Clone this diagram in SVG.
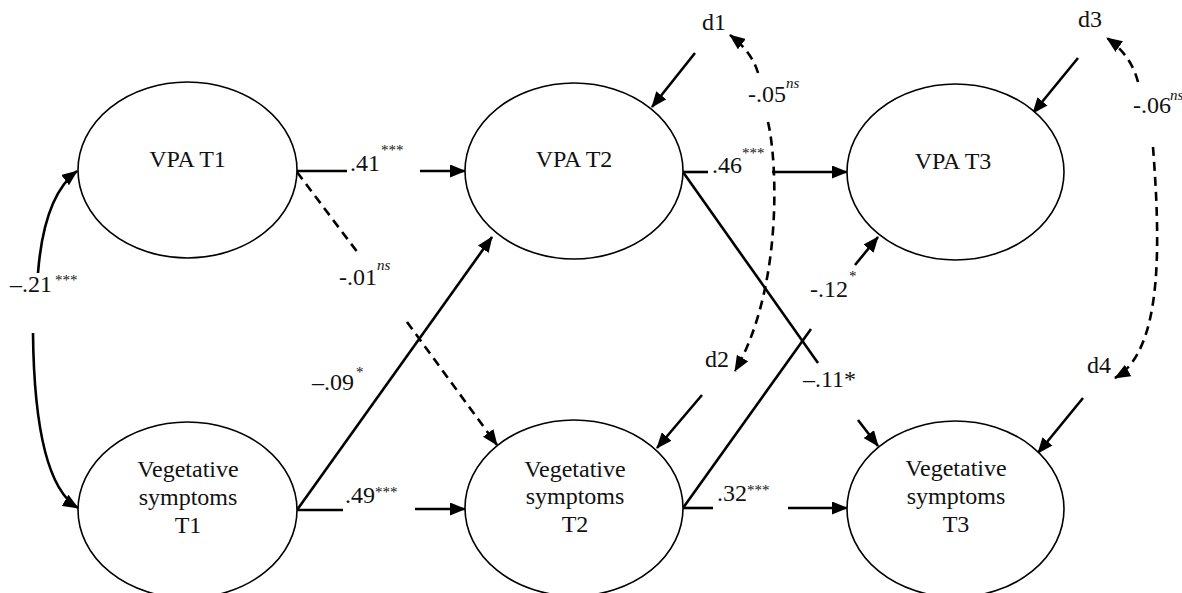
<svg xmlns="http://www.w3.org/2000/svg" width="1182" height="593" viewBox="0 0 1182 593">
<style>
.node ellipse{fill:#fff;stroke:#000;stroke-width:1.6}
.nt{font-family:"Liberation Serif","Times New Roman",serif;font-size:24px;fill:#111;text-anchor:middle}
.lb{font-family:"Liberation Serif","Times New Roman",serif;font-size:24px;fill:#111}
.sup{font-family:"Liberation Serif","Times New Roman",serif;font-size:15px;fill:#111}
.it{font-style:italic}
.c{fill:none;stroke:#000;stroke-width:2.6}
.d{stroke-dasharray:9,6}
.a{marker-end:url(#ah)}
</style>
<defs>
<marker id="ah" viewBox="0 0 16 13" refX="15" refY="6.5" markerWidth="16" markerHeight="13" markerUnits="userSpaceOnUse" orient="auto">
<path d="M0,0 L16,6.5 L0,13 z" fill="#000"/>
</marker>
</defs>
<rect width="1182" height="593" fill="#fff"/>
<g id="connectors">
<path class="c a" d="M38,273 Q44,196 77,171"/>
<path class="c a" d="M33,333 C34,430 48,490 78,508"/>
<path class="c" d="M297,171 L347,171"/>
<path class="c a" d="M420,171 L465,171"/>
<path class="c d" d="M297,172 L358,253"/>
<path class="c d a" d="M407,322 L497,445"/>
<path class="c a" d="M297,510 L492,237"/>
<path class="c" d="M297,510 L343,510"/>
<path class="c a" d="M415,509 L465,509"/>
<path class="c" d="M683,172 L708,172"/>
<path class="c a" d="M772,172 L847,172"/>
<path class="c" d="M683,172 L818,363"/>
<path class="c a" d="M858,420 L878,446"/>
<path class="c" d="M683,508 L811,329"/>
<path class="c a" d="M855,265 L878,237"/>
<path class="c" d="M683,508 L713,508"/>
<path class="c a" d="M788,508 L847,508"/>
<path class="c a" d="M695,53 L652,107"/>
<path class="c a" d="M702,395 L657,448"/>
<path class="c a" d="M1078,58 L1033,113"/>
<path class="c a" d="M1083,398 L1038,453"/>
<path class="c d a" d="M758,73 Q752,52 730,35"/>
<path class="c d a" d="M768,122 C778,165 782,290 735,371"/>
<path class="c d a" d="M1138,82 Q1131,55 1107,38"/>
<path class="c d a" d="M1153,147 C1160,240 1164,350 1115,378"/>
</g>
<g id="labels">
<text class="lb" x="10" y="292">–.21</text><text class="sup" x="55" y="285">***</text>
<text class="lb" x="350" y="171">.41</text><text class="sup" x="381" y="155">***</text>
<text class="lb" x="339" y="285">-.01</text><text class="sup it" x="377" y="270">ns</text>
<text class="lb" x="312" y="390">–.09</text><text class="sup" x="356" y="377">*</text>
<text class="lb" x="345" y="503">.49</text><text class="sup" x="375" y="497">***</text>
<text class="lb" x="712" y="173">.46</text><text class="sup" x="742" y="158">***</text>
<text class="lb" x="748" y="102">-.05</text><text class="sup it" x="786" y="88">ns</text>
<text class="lb" x="810" y="297">-.12</text><text class="sup" x="849" y="281">*</text>
<text class="lb" x="803" y="387">–.11*</text>
<text class="lb" x="717" y="501">.32</text><text class="sup" x="747" y="495">***</text>
<text class="lb" x="1133" y="113">-.06</text><text class="sup it" x="1170" y="100">ns</text>
</g>
<g id="d1"><text class="lb" x="702" y="30">d1</text></g>
<g id="d2"><text class="lb" x="705" y="367">d2</text></g>
<g id="d3"><text class="lb" x="1078" y="27">d3</text></g>
<g id="d4"><text class="lb" x="1087" y="373">d4</text></g>
<g id="vpa-t1" class="node"><ellipse cx="187.5" cy="170" rx="109.5" ry="88"/><text class="nt" x="187.5" y="167">VPA T1</text></g>
<g id="vpa-t2" class="node"><ellipse cx="574" cy="171" rx="109" ry="88"/><text class="nt" x="574" y="167">VPA T2</text></g>
<g id="vpa-t3" class="node"><ellipse cx="955.5" cy="172" rx="108.5" ry="88"/><text class="nt" x="953" y="169">VPA T3</text></g>
<g id="veg-t1" class="node"><ellipse cx="187.5" cy="510" rx="109.5" ry="88"/><text class="nt" x="188" y="477">Vegetative</text><text class="nt" x="188" y="505">symptoms</text><text class="nt" x="188" y="533">T1</text></g>
<g id="veg-t2" class="node"><ellipse cx="574" cy="508" rx="109" ry="88"/><text class="nt" x="575" y="477">Vegetative</text><text class="nt" x="575" y="504">symptoms</text><text class="nt" x="575" y="532">T2</text></g>
<g id="veg-t3" class="node"><ellipse cx="955.5" cy="509" rx="108.5" ry="88"/><text class="nt" x="956" y="476">Vegetative</text><text class="nt" x="956" y="504">symptoms</text><text class="nt" x="956" y="532">T3</text></g>
</svg>
